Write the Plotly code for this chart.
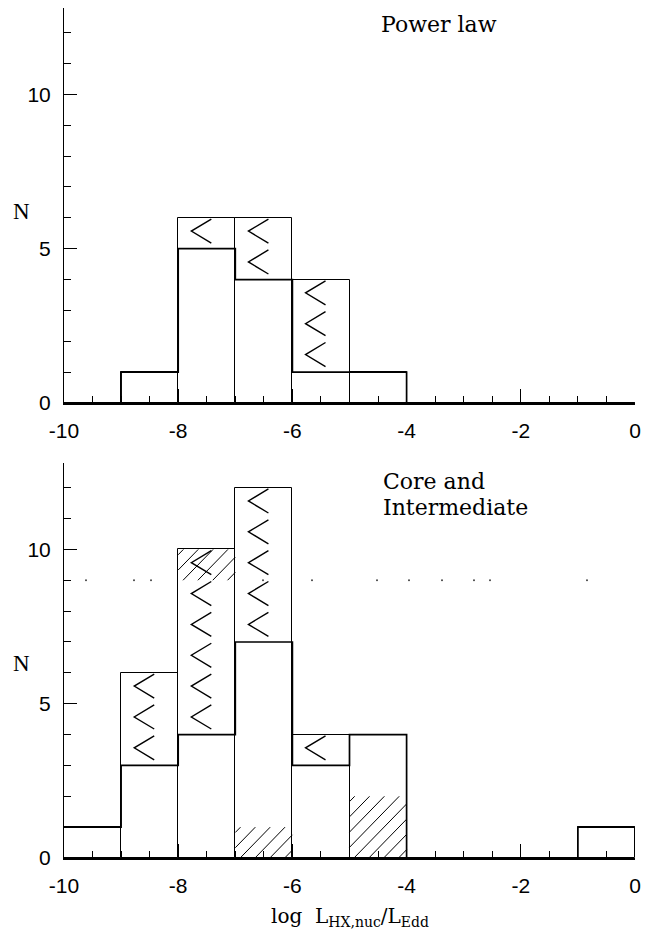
import plotly.graph_objects as go

# ---------------- data ----------------
bin_left = [-10, -9, -8, -7, -6, -5, -4, -3, -2, -1]
bin_centers = [b + 0.5 for b in bin_left]

# Power law panel
pl_detected = [0, 1, 5, 4, 1, 1, 0, 0, 0, 0]
pl_total = [0, 1, 6, 6, 4, 1, 0, 0, 0, 0]

# Core and Intermediate panel
ci_detected = [1, 3, 4, 7, 3, 4, 0, 0, 0, 1]
ci_total = [1, 6, 10, 12, 4, 4, 0, 0, 0, 1]

# hatched parts (bottom panel): bin left edge, base, height
hatch_left = [-8, -7, -5]
hatch_base = [9, 0, 0]
hatch_height = [1, 1, 2]

# faint dotted row at N = 9 in the bottom panel
dot_x = [-9.615, -8.774, -8.476, -6.515, -5.657, -4.518, -3.958, -3.380, -2.820, -2.539, -0.841]
dot_level = 9

x_ticks = [-10, -8, -6, -4, -2, 0]
x_tick_labels = ["-10", "-8", "-6", "-4", "-2", "0"]
y_ticks = [0, 5, 10]
y_tick_labels = ["0", "5", "10"]

# ---------------- helpers ----------------
def chevrons(centers, det, tot):
    xs, ys = [], []
    for c, d, t in zip(centers, det, tot):
        for j in range(d, t):
            xs += [c + 0.08, c - 0.27, c + 0.08, None]
            ys += [j + 0.96, j + 0.57, j + 0.18, None]
    return xs, ys


def step_xy(det):
    xs = bin_left + [bin_left[-1] + 1]
    ys = det + [det[-1]]
    return xs, ys


def hatch_xy(lefts, bases, heights, slope=1.9, spacing=0.26):
    xs, ys = [], []
    for x0, y0, h in zip(lefts, bases, heights):
        x1, y1 = x0 + 1, y0 + h
        run = h / slope
        a = x0 - run + spacing * 0.35
        while a < x1:
            xa = max(a, x0)
            xb = min(a + run, x1)
            if xb > xa:
                xs += [xa, xb, None]
                ys += [y0 + slope * (xa - a), y0 + slope * (xb - a), None]
            a += spacing
    return xs, ys


fig = go.Figure()

panels = [
    ("x", "y", pl_detected, pl_total),
    ("x2", "y2", ci_detected, ci_total),
]

for xa, ya, det, tot in panels:
    # total boxes
    fig.add_trace(go.Bar(
        x=bin_centers, y=tot, width=1, xaxis=xa, yaxis=ya,
        marker=dict(color="rgba(0,0,0,0)", line=dict(color="black", width=1)),
        showlegend=False, hoverinfo="skip",
    ))

# hatch lines (bottom panel)
hx, hy = hatch_xy(hatch_left, hatch_base, hatch_height)
fig.add_trace(go.Scatter(
    x=hx, y=hy, mode="lines", line=dict(color="black", width=1),
    xaxis="x2", yaxis="y2", showlegend=False, hoverinfo="skip",
))

for xa, ya, det, tot in panels:
    # detection step outline
    sx, sy = step_xy(det)
    fig.add_trace(go.Scatter(
        x=sx, y=sy, mode="lines", line=dict(color="black", width=1.7, shape="hv"),
        xaxis=xa, yaxis=ya, showlegend=False, hoverinfo="skip",
    ))
    # upper-limit chevrons
    cx, cy = chevrons(bin_centers, det, tot)
    fig.add_trace(go.Scatter(
        x=cx, y=cy, mode="lines", line=dict(color="black", width=1.4),
        xaxis=xa, yaxis=ya, showlegend=False, hoverinfo="skip",
    ))

fig.add_trace(go.Scatter(
    x=dot_x, y=[dot_level] * len(dot_x), mode="markers",
    marker=dict(color="#444", size=2), xaxis="x2", yaxis="y2",
    showlegend=False, hoverinfo="skip",
))

tickfont = dict(family="Liberation Sans, Arial, sans-serif", size=21, color="black")

def xaxis_cfg(anchor):
    return dict(
        anchor=anchor, domain=[0, 1], range=[-10, 0],
        tickmode="array", tickvals=x_ticks, ticktext=x_tick_labels,
        ticks="inside", ticklen=14, tickwidth=1, tickcolor="black",
        minor=dict(dtick=0.5, ticks="inside", ticklen=7, tickwidth=1, tickcolor="black"),
        showline=True, linecolor="black", linewidth=2, showgrid=False, zeroline=False,
        tickfont=tickfont, ticklabelstandoff=8, automargin=False,
    )

def yaxis_cfg(anchor, dom):
    return dict(
        anchor=anchor, domain=dom, range=[0, 12.8],
        tickmode="array", tickvals=y_ticks, ticktext=y_tick_labels,
        ticks="inside", ticklen=13, tickwidth=1, tickcolor="black",
        minor=dict(dtick=1, ticks="inside", ticklen=7, tickwidth=1, tickcolor="black"),
        showline=True, linecolor="black", linewidth=1, showgrid=False, zeroline=False,
        tickfont=tickfont, ticklabelstandoff=8, automargin=False,
    )

serif = "DejaVu Serif, serif"
nfont = dict(family="Liberation Serif, Times New Roman, serif", size=23, color="black")
tfont = dict(family=serif, size=22, color="black")

# page body has an 8px default margin, so the figure is 8px smaller each way
fig.update_layout(
    width=645, height=926,
    margin=dict(l=56, r=18, t=0, b=76, autoexpand=False),
    paper_bgcolor="white", plot_bgcolor="white",
    barmode="overlay", bargap=0,
    xaxis=xaxis_cfg("y"),
    yaxis=yaxis_cfg("x", [0.5353, 1.0]),
    xaxis2=xaxis_cfg("y2"),
    yaxis2=yaxis_cfg("x2", [0.0, 0.4647]),
    annotations=[
        dict(text="N", xref="paper", yref="y", x=-0.0736, y=6.2, showarrow=False,
             xanchor="center", yanchor="middle", font=nfont),
        dict(text="N", xref="paper", yref="y2", x=-0.0736, y=6.3, showarrow=False,
             xanchor="center", yanchor="middle", font=nfont),
        dict(text="Power law", xref="x", yref="y", x=-4.48, y=12.27, showarrow=False,
             xanchor="left", yanchor="middle", font=tfont),
        dict(text="Core and", xref="x2", yref="y2", x=-4.45, y=12.2, showarrow=False,
             xanchor="left", yanchor="middle", font=tfont),
        dict(text="Intermediate", xref="x2", yref="y2", x=-4.45, y=11.36, showarrow=False,
             xanchor="left", yanchor="middle", font=tfont),
        dict(text="log  L<sub>HX,nuc</sub>/L<sub>Edd</sub>", xref="paper", yref="paper",
             x=0.5, y=-0.069, showarrow=False, xanchor="center", yanchor="middle",
             font=dict(family=serif, size=20, color="black")),
    ],
)

fig.write_html("out.html")
